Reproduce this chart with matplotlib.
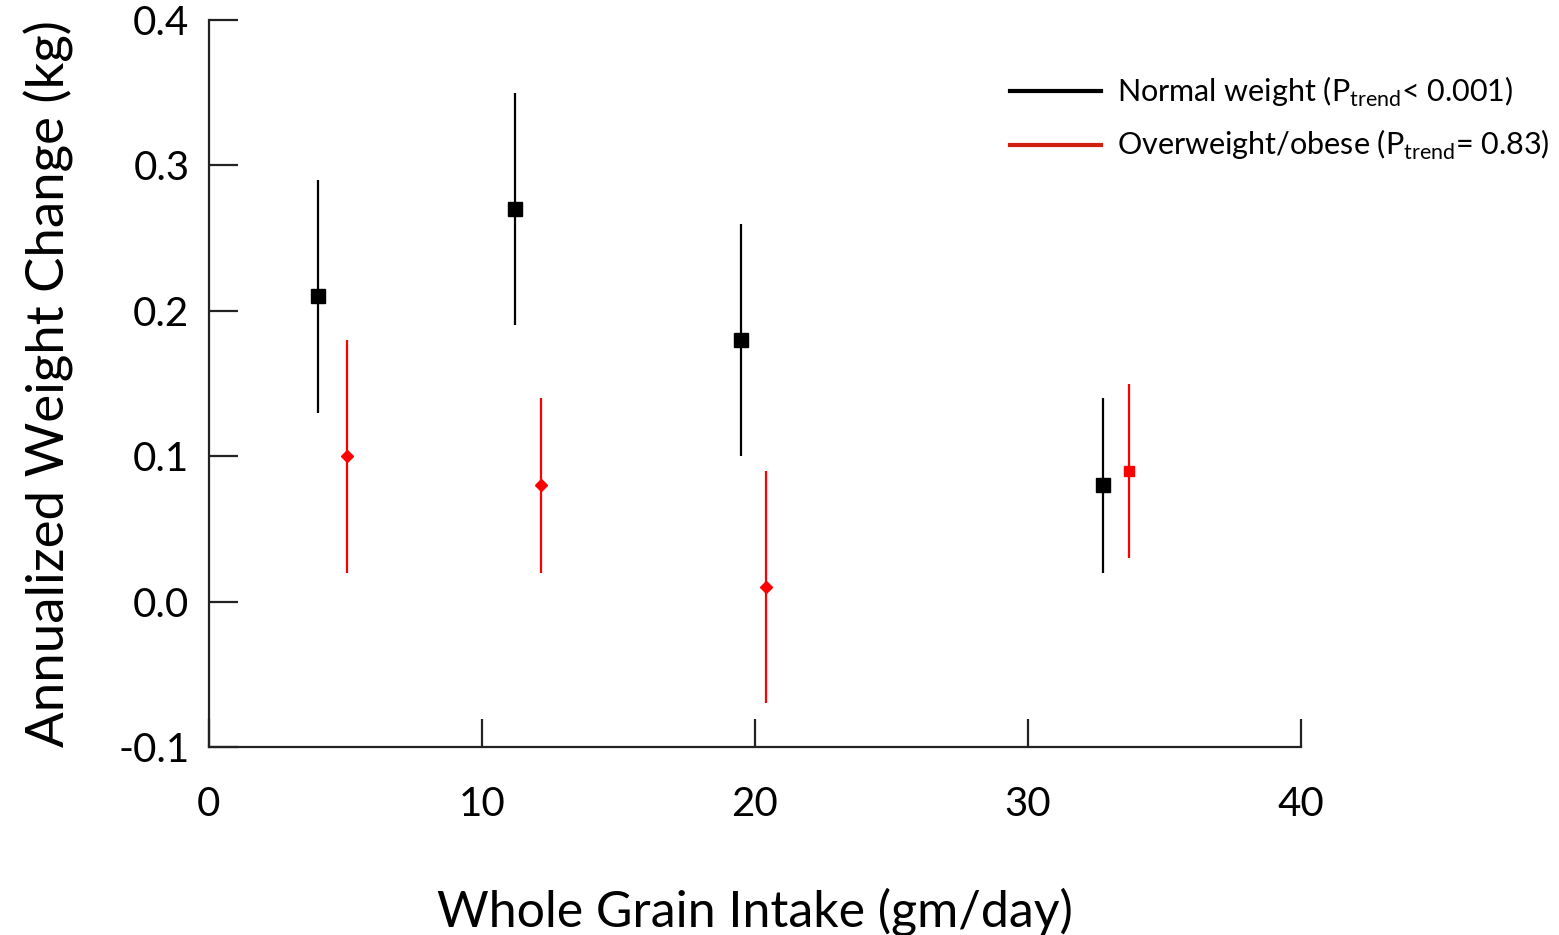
import matplotlib
matplotlib.use('Agg')
import matplotlib.pyplot as plt
from matplotlib.lines import Line2D

plt.rcParams['font.family'] = ['Lato', 'DejaVu Sans']
plt.rcParams['mathtext.fontset'] = 'custom'
plt.rcParams['mathtext.rm'] = 'Lato'
plt.rcParams['axes.unicode_minus'] = False

# data
normal_x = [4.0, 11.2, 19.5, 32.75]
normal_y = [0.21, 0.27, 0.18, 0.08]
normal_lo = [0.13, 0.19, 0.10, 0.02]
normal_hi = [0.29, 0.35, 0.26, 0.14]

over_x = [5.05, 12.15, 20.4, 33.7]
over_y = [0.10, 0.08, 0.01, 0.09]
over_lo = [0.02, 0.02, -0.07, 0.03]
over_hi = [0.18, 0.14, 0.09, 0.15]
over_markers = ['D', 'D', 'D', 's']

x_ticks = [0, 10, 20, 30, 40]
y_ticks = [-0.1, 0.0, 0.1, 0.2, 0.3, 0.4]

fig = plt.figure(figsize=(15.59, 9.35), dpi=100)
ax = fig.add_axes([0.134, 0.201, 0.7005, 0.7776])

n_err = [[y - lo for y, lo in zip(normal_y, normal_lo)],
         [hi - y for y, hi in zip(normal_y, normal_hi)]]
ax.errorbar(normal_x, normal_y, yerr=n_err, fmt='s', color='black',
            ms=10, elinewidth=1.6, capsize=0)

for x, y, lo, hi, m in zip(over_x, over_y, over_lo, over_hi, over_markers):
    ax.errorbar([x], [y], yerr=[[y - lo], [hi - y]], fmt=m, color='#ff0000',
                ms=6 if m == 'D' else 7, elinewidth=1.6, capsize=0)

ax.set_xlim(0, 40)
ax.set_ylim(-0.1, 0.4)
ax.set_xticks(x_ticks)
ax.set_yticks(y_ticks)
ax.set_yticklabels(['%.1f' % v for v in y_ticks])

for side in ['top', 'right']:
    ax.spines[side].set_visible(False)
for side in ['left', 'bottom']:
    ax.spines[side].set_linewidth(1.6)
    ax.spines[side].set_color('#222222')

ax.tick_params(axis='x', direction='in', length=20, width=1.6, color='#222222',
               labelsize=29, pad=28)
ax.tick_params(axis='y', direction='in', length=21, width=1.6, color='#222222',
               labelsize=29, pad=14)

ax.set_xlabel('Whole Grain Intake (gm/day)', fontsize=36, labelpad=46)
ax.set_ylabel('Annualized Weight Change (kg)', fontsize=38, labelpad=32)

handles = [Line2D([], [], color='black', lw=3),
           Line2D([], [], color='#d02010', lw=3)]
labels = [r'Normal weight (P$_{\mathrm{trend}}$< 0.001)',
          r'Overweight/obese (P$_{\mathrm{trend}}$= 0.83)']
ax.legend(handles, labels, loc='upper left', bbox_to_anchor=(0.708, 0.963),
          frameon=False, fontsize=22, handlelength=3.0, handletextpad=0.5,
          labelspacing=0.65)

fig.savefig('out.png', dpi=100)
